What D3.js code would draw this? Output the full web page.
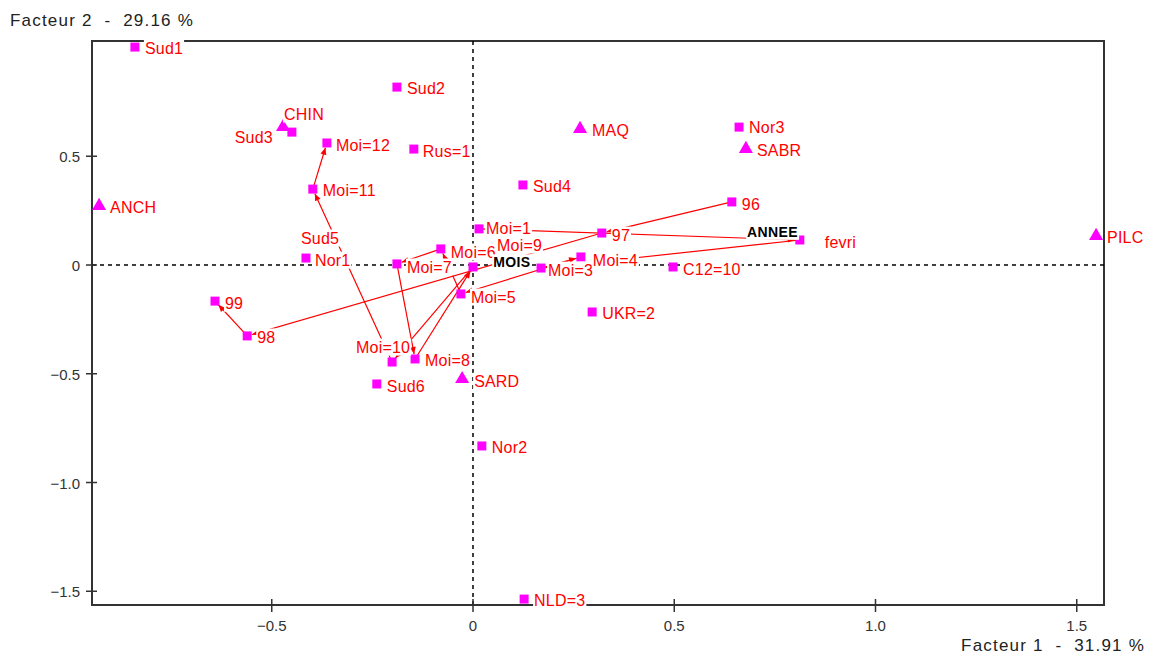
<!DOCTYPE html>
<html><head><meta charset="utf-8">
<script src="https://cdn.jsdelivr.net/npm/d3@7"></script>
<style>
body{margin:0;background:#fff}
svg{display:block}
text{font-family:"Liberation Sans",Arial,sans-serif}
</style>
</head><body>
<svg id="c" width="1154" height="659"></svg>
<script>
// ---- data ----
const pointNames = ["Sud1","Sud2","CHIN","Sud3","Moi=12","Rus=1","MAQ","Nor3","SABR","ANCH",
  "Moi=11","Sud4","96","Moi=1","97","fevri","PILC","Moi=6","Moi=7","Moi=9","Moi=5","Moi=3",
  "Moi=4","C12=10","Nor1","Sud5","99","98","UKR=2","Moi=10","Moi=8","Sud6","SARD","Nor2","NLD=3"];
const pointX = [-0.840,-0.189,-0.472,-0.450,-0.363,-0.147,0.266,0.661,0.678,-0.929,
  -0.398,0.124,0.643,0.015,0.320,0.812,1.548,-0.080,-0.189,0.000,-0.030,0.169,
  0.268,0.497,-0.415,-0.380,-0.641,-0.561,0.296,-0.201,-0.144,-0.239,-0.027,0.022,0.127];
const pointY = [1.002,0.818,0.630,0.611,0.561,0.533,0.621,0.634,0.529,0.267,
  0.349,0.368,0.290,0.166,0.147,0.115,0.129,0.074,0.005,-0.009,-0.133,-0.014,
  0.037,-0.009,0.032,0.129,-0.166,-0.326,-0.216,-0.446,-0.432,-0.547,-0.529,-0.832,-1.536];
const pointShape = ["sq","sq","tri","sq","sq","sq","tri","sq","tri","tri",
  "sq","sq","sq","sq","sq","sq","tri","sq","sq","sq","sq","sq",
  "sq","sq","sq","sq","sq","sq","sq","sq","sq","sq","tri","sq","sq"];
const moisPath = ["Moi=1","fevri","Moi=3","Moi=4","Moi=5","Moi=6","Moi=7","Moi=8","Moi=9","Moi=10","Moi=11","Moi=12"];
const anneePath = ["96","97","98","99"];
const varNames = ["MOIS","ANNEE"];
const varX = [0.050, 0.681];
const varY = [0.012, 0.152];
const xTicks = [-0.5, 0, 0.5, 1.0, 1.5];
const yTicks = [0.5, 0, -0.5, -1.0, -1.5];
const xTitle = "Facteur 1  -  31.91 %";
const yTitle = "Facteur 2  -  29.16 %";
const xDomain = [-0.9466, 1.5677];
const yDomain = [-1.5632, 1.0299];

// ---- layout (label placement, px) ----
const labelPos = {
  "CHIN":{dx:1,dy:-14}, "Sud3":{dx:-19,dy:5,anchor:"end"}, "Sud5":{dx:0,dy:1,anchor:"middle"},
  "Moi=10":{dx:-36,dy:-15}, "Moi=9":{dx:24,dy:-22}, "fevri":{dx:25,dy:2},
  "Moi=3":{dx:7,dy:2}, "Moi=4":{dx:12,dy:3}, "Moi=7":{dx:10,dy:3}, "Moi=6":{dx:10,dy:3},
  "Moi=5":{dx:10,dy:3}, "99":{dx:10,dy:2}, "Sud6":{dx:10,dy:2}, "SARD":{dx:12,dy:1},
  "MAQ":{dx:12,dy:0}, "SABR":{dx:11,dy:0}, "Nor3":{dx:10,dy:0}, "ANCH":{dx:11,dy:0},
  "PILC":{dx:11,dy:0}, "C12=10":{dx:10,dy:2}, "97":{dx:10,dy:2}, "96":{dx:10,dy:2},
  "Moi=1":{dx:7,dy:0}, "Moi=12":{dx:9,dy:2}, "Rus=1":{dx:9,dy:2}, "Nor1":{dx:9,dy:2}
};

const svg = d3.select("#c");
const L=92, R=1104, T=41, B=605;
const x = d3.scaleLinear().domain(xDomain).range([L,R]);
const y = d3.scaleLinear().domain(yDomain).range([B,T]);

const pts = pointNames.map((n,i)=>({name:n,x:pointX[i],y:pointY[i],shape:pointShape[i]}));
const byName = Object.fromEntries(pts.map(p=>[p.name,p]));

// frame
svg.append("rect").attr("x",L).attr("y",T).attr("width",R-L).attr("height",B-T)
  .attr("fill","none").attr("stroke","#333").attr("stroke-width",2);

// zero dashed lines
svg.append("line").attr("x1",L).attr("x2",R).attr("y1",y(0)).attr("y2",y(0))
  .attr("stroke","#000").attr("stroke-width",1.5).attr("stroke-dasharray","4,4");
svg.append("line").attr("y1",T).attr("y2",B).attr("x1",x(0)).attr("x2",x(0))
  .attr("stroke","#000").attr("stroke-width",1.5).attr("stroke-dasharray","4,4");

// axes ticks
const tickColor="#333";
const xt = svg.append("g");
xTicks.forEach(v=>{
  xt.append("line").attr("x1",x(v)).attr("x2",x(v)).attr("y1",B-6).attr("y2",B+7).attr("stroke",tickColor).attr("stroke-width",1.5);
  xt.append("text").attr("x",x(v)).attr("y",631).attr("text-anchor","middle")
    .attr("font-size",15).attr("fill",tickColor).text(v===0?"0":d3.format(".1f")(v));
});
yTicks.forEach(v=>{
  xt.append("line").attr("x1",L-6).attr("x2",L+5).attr("y1",y(v)).attr("y2",y(v)).attr("stroke",tickColor).attr("stroke-width",1.5);
  xt.append("text").attr("x",80).attr("y",y(v)+6).attr("text-anchor","end")
    .attr("font-size",15).attr("fill",tickColor).text(v===0?"0":d3.format(".1f")(v));
});

// titles
svg.append("text").attr("x",10).attr("y",26).attr("font-size",17).attr("fill","#222")
  .attr("letter-spacing","1.2px").style("white-space","pre").text(yTitle);
svg.append("text").attr("x",1145).attr("y",651).attr("text-anchor","end").attr("font-size",17).attr("fill","#222")
  .attr("letter-spacing","1.2px").style("white-space","pre").text(xTitle);

// arrow marker
svg.append("defs").append("marker").attr("id","arr").attr("markerUnits","userSpaceOnUse")
  .attr("markerWidth",10).attr("markerHeight",10).attr("refX",0).attr("refY",0)
  .attr("viewBox","-8 -5 10 10").attr("orient","auto")
  .append("path").attr("d","M0,0 L-7,-3 L-7,3 Z").attr("fill","#ff0000");

// trajectories
function drawPath(names){
  for(let i=0;i<names.length-1;i++){
    const a=byName[names[i]], b=byName[names[i+1]];
    const x1=x(a.x), y1=y(a.y), x2=x(b.x), y2=y(b.y);
    const d=Math.hypot(x2-x1,y2-y1), s=5/d;
    svg.append("line").attr("x1",x1).attr("y1",y1)
      .attr("x2",x2-(x2-x1)*s).attr("y2",y2-(y2-y1)*s)
      .attr("stroke","#ff0000").attr("stroke-width",1.2).attr("marker-end","url(#arr)");
  }
}
drawPath(moisPath);
drawPath(anneePath);

// points
const sq = d3.symbol().type(d3.symbolSquare).size(81);
const tri = d3.symbol().type(d3.symbolTriangle).size(85);
svg.append("g").selectAll("path").data(pts).join("path")
  .attr("d",d=>d.shape==="tri"?tri():sq())
  .attr("transform",d=>`translate(${x(d.x)},${y(d.y)+(d.shape==="tri"?-1:0)})`)
  .attr("fill","#ff00ff");

// labels with white background
const lg = svg.append("g");
function label(px,py,txt,opts){
  const g = lg.append("g");
  const t = g.append("text").attr("x",px).attr("y",py).attr("dy","0.35em")
    .attr("text-anchor",opts.anchor||"start").attr("font-size",opts.size||16)
    .attr("font-weight",opts.weight||"normal").attr("fill",opts.fill||"#ff0000")
    .attr("letter-spacing",opts.ls||"0.2px").text(txt);
  const bb = t.node().getBBox();
  g.insert("rect","text").attr("x",bb.x-1).attr("y",bb.y).attr("width",bb.width+2).attr("height",bb.height).attr("fill","#fff");
}
pts.forEach(p=>{
  const o = labelPos[p.name]||{dx:10,dy:1};
  label(x(p.x)+o.dx, y(p.y)+o.dy, p.name, {anchor:o.anchor});
});
varNames.forEach((n,i)=>{
  label(x(varX[i]), y(varY[i]), n, {size:14, weight:"bold", fill:"#000", ls:"0.4px"});
});
</script>
</body></html>
